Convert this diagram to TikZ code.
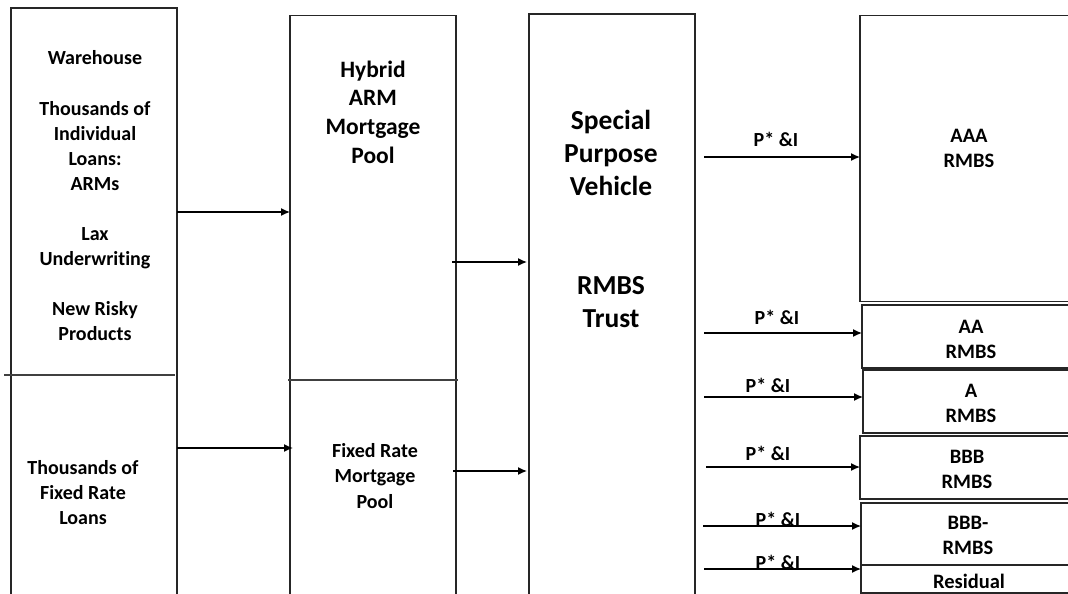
\documentclass[tikz,border=0pt]{standalone}
\usepackage{fontspec}
\setmainfont{Carlito}[Ligatures={NoCommon}]
\usetikzlibrary{arrows.meta}
\begin{document}
\begin{tikzpicture}[x=1pt,y=-1pt,
  box/.style={draw=black!85, line width=1.1pt, anchor=north west, inner sep=0pt, outer sep=0pt},
  flow/.style={draw=black, line width=1.3pt, -{Latex[length=9pt,width=8pt]}},
  divider/.style={draw=black!75, line width=1.1pt},
  lbl/.style={font=\bfseries\fontsize{20}{25.1}\selectfont, align=center, inner sep=0pt},
  big/.style={font=\bfseries\fontsize{27.5}{33}\selectfont, align=center, inner sep=0pt},
  mid/.style={font=\bfseries\fontsize{23.5}{28.7}\selectfont, align=center, inner sep=0pt},
  tr/.style={font=\bfseries\fontsize{20.5}{25}\selectfont, align=center, inner sep=0pt},
  pi/.style={font=\bfseries\fontsize{20}{22}\selectfont, inner sep=0pt}]
\useasboundingbox (0,0) rectangle (1068,594);
\clip (0,0) rectangle (1068,594);
% boxes
\node[box, minimum width=166pt, minimum height=612pt] (lb) at (11,8) {};
\node[box, minimum width=166pt, minimum height=605pt] (hy) at (290,15.5) {};
\node[box, minimum width=166pt, minimum height=606pt] (spv) at (529,14) {};
\node[box, minimum width=220pt, minimum height=286pt] (aaa) at (860,15.7) {};
\node[box, minimum width=218pt, minimum height=63pt] (aa) at (862,305) {};
\node[box, minimum width=217pt, minimum height=63pt] (a) at (863,370) {};
\node[box, minimum width=220pt, minimum height=63pt] (bbb) at (860,436) {};
\node[box, minimum width=219pt, minimum height=62pt] (bbbm) at (861,503) {};
\node[box, minimum width=219pt, minimum height=28pt] (res) at (861,565) {};
% dividers
\coordinate (d1a) at (4,375);
\coordinate (d1b) at (175,375);
\draw[divider] (d1a) -- (d1b);
\coordinate (d2a) at (288,380);
\coordinate (d2b) at (458,380);
\draw[divider] (d2a) -- (d2b);
% texts
\node[lbl] (t1) at (95,196) {Warehouse\\[25.1pt]Thousands of\\Individual\\Loans:\\ARMs\\[25.1pt]Lax\\Underwriting\\[25.1pt]New Risky\\Products};
\node[lbl] (t2) at (83,492.5) {Thousands of\\Fixed Rate\\Loans};
\node[mid] (t3) at (373,112) {Hybrid\\ARM\\Mortgage\\Pool};
\node[lbl] (t4) at (375,476) {Fixed Rate\\Mortgage\\Pool};
\node[big] (t5) at (611,218.5) {Special\\Purpose\\Vehicle\\[66pt]RMBS\\Trust};
\node[tr] (t6) at (969,148) {AAA\\RMBS};
\node[tr] (t7) at (971,339.5) {AA\\RMBS};
\node[tr] (t8) at (971,403.5) {A\\RMBS};
\node[tr] (t9) at (967,469.5) {BBB\\RMBS};
\node[tr] (t10) at (968,535) {BBB-\\RMBS};
\node[tr] (t11) at (969,581.5) {Residual};
% arrows left
\draw[flow] (lb.east |- 0,212) -- (hy.west |- 0,212);
\draw[flow] (lb.east |- 0,448) -- ([xshift=3pt]hy.west |- 0,448);
\draw[flow] ([xshift=-4pt]hy.east |- 0,262) -- ([xshift=-2pt]spv.west |- 0,262);
\draw[flow] ([xshift=-3pt]hy.east |- 0,471) -- ([xshift=-2pt]spv.west |- 0,471);
% arrows right
\draw[flow] ([xshift=9pt]spv.east |- 0,157) -- (aaa.west |- 0,157);
\draw[flow] ([xshift=9pt]spv.east |- 0,333) -- (aa.west |- 0,333);
\draw[flow] ([xshift=9pt]spv.east |- 0,397) -- (a.west |- 0,397);
\draw[flow] ([xshift=11pt]spv.east |- 0,467) -- (bbb.west |- 0,467);
\draw[flow] ([xshift=8pt]spv.east |- 0,526) -- (bbbm.west |- 0,526);
\draw[flow] ([xshift=9pt]spv.east |- 0,569) -- (res.west |- 0,569);
% labels
\node[pi] (p1) at (776,139) {P* \&I};
\node[pi] (p2) at (777,317) {P* \&I};
\node[pi] (p3) at (768,385) {P* \&I};
\node[pi] (p4) at (768,453) {P* \&I};
\node[pi] (p5) at (778,519) {P* \&I};
\node[pi] (p6) at (778,562) {P* \&I};
\end{tikzpicture}
\end{document}
